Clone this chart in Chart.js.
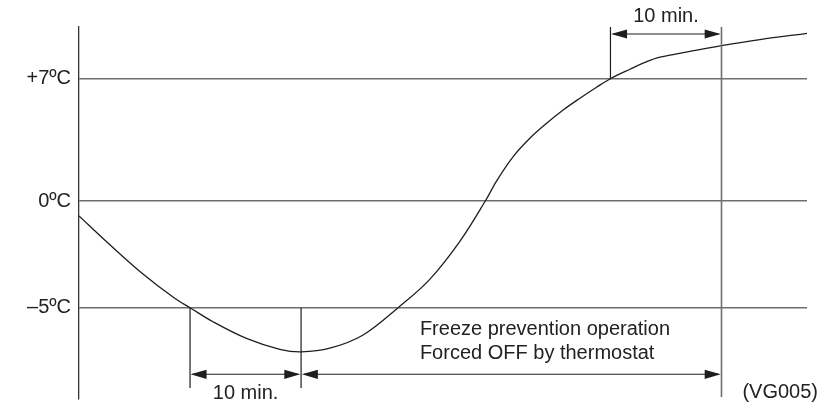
<!DOCTYPE html>
<html><head><meta charset="utf-8">
<script src="https://cdn.jsdelivr.net/npm/chart.js@4/dist/chart.umd.min.js"></script>
<style>html,body{margin:0;padding:0;background:#fff;}canvas{display:block;}</style>
</head><body>
<canvas id="c" width="821" height="403"></canvas>
<script>
// ---- data (time in minutes, temperature in ºC) ----
const TIME_MIN = [0, 2.61, 5.62, 8.62, 10.0, 12.07, 15.08, 18.08, 20.0, 22.59, 25.59, 28.74, 31.59, 34.30, 36.59, 37.6, 39.1, 40.6, 42.11, 43.6, 45.11, 46.61, 47.86, 49.61, 50.96, 52.32, 55.02, 57.86, 61.32, 65.56];
const TEMP_C   = [-0.70, -1.97, -3.36, -4.56, -5.0, -5.66, -6.44, -6.95, -7.07, -6.90, -6.28, -5.0, -3.67, -1.89, 0, 1.14, 2.54, 3.59, 4.45, 5.21, 5.88, 6.51, 7.0, 7.54, 7.93, 8.23, 8.56, 8.89, 9.24, 9.60];
const TICK_VALUES = [-5, 0, 7];
const TICK_LABELS = ['–5ºC', '0ºC', '+7ºC'];
const T_REACH_MINUS5 = 10;
const T_LOWEST = 20;
const T_REACH_PLUS7 = 47.86;
const T_FORCED_OFF_END = 57.86;
const T_NOTE = 30.7;
const TEMP_LOW_MARK = -5;
const TEMP_HIGH_MARK = 7;
const SPAN_LABEL = '10 min.';
const NOTE_LINES = ['Freeze prevention operation', 'Forced OFF by thermostat'];
const FIG_CODE = '(VG005)';

// ---- schematic (piecewise) temperature scale ----
const BELOW_ZERO_STRETCH = 1.221;
class TempScale extends Chart.LinearScale {
  static id = 'tempPiecewise';
  static defaults = {};
  _w(v){ return v < 0 ? v * BELOW_ZERO_STRETCH : v; }
  _uw(w){ return w < 0 ? w / BELOW_ZERO_STRETCH : w; }
  getPixelForValue(v){
    const lo = this._w(this.min), hi = this._w(this.max);
    return this.getPixelForDecimal((this._w(v) - lo) / (hi - lo));
  }
  getValueForPixel(p){
    const lo = this._w(this.min), hi = this._w(this.max);
    return this._uw(lo + this.getDecimalForPixel(p) * (hi - lo));
  }
}
Chart.register(TempScale);

const FONT = '"Liberation Sans", Arial, Helvetica, sans-serif';
const DARK = '#1e1e1e';
const GRAY = '#6e6e6e';

function arrowHead(ctx, tipX, y, dir){
  const L = 16, H = 4.6;
  ctx.beginPath();
  ctx.moveTo(tipX, y);
  ctx.lineTo(tipX - dir * L, y - H);
  ctx.lineTo(tipX - dir * L, y + H);
  ctx.closePath();
  ctx.fill();
}
function dimArrow(ctx, x1, x2, y){
  ctx.beginPath();
  ctx.moveTo(x1 + 2, y);
  ctx.lineTo(x2 - 2, y);
  ctx.stroke();
  arrowHead(ctx, x1, y, -1);
  arrowHead(ctx, x2, y, 1);
}
function vline(ctx, x, y1, y2, color, w){
  ctx.strokeStyle = color; ctx.lineWidth = w;
  ctx.beginPath(); ctx.moveTo(x, y1); ctx.lineTo(x, y2); ctx.stroke();
}

const notesPlugin = {
  id: 'notes',
  afterDatasetsDraw(chart){
    const {ctx, chartArea: a, scales: {x, y}} = chart;
    const X = t => x.getPixelForValue(t);
    const Y = v => y.getPixelForValue(v);
    ctx.save();
    vline(ctx, X(T_REACH_MINUS5), Y(TEMP_LOW_MARK), a.bottom - 11, DARK, 1.2);
    vline(ctx, X(T_LOWEST), Y(TEMP_LOW_MARK), a.bottom - 11, DARK, 1.2);
    vline(ctx, X(T_REACH_PLUS7), a.top, Y(TEMP_HIGH_MARK), DARK, 1.2);
    vline(ctx, X(T_FORCED_OFF_END), a.top, a.bottom - 2, GRAY, 1.6);
    ctx.strokeStyle = DARK; ctx.fillStyle = DARK; ctx.lineWidth = 1.1;
    const yb = a.bottom - 24.7, yt = a.top + 7;
    dimArrow(ctx, X(T_REACH_MINUS5) + 0.5, X(T_LOWEST) - 0.8, yb);
    dimArrow(ctx, X(T_LOWEST) + 0.8, X(T_FORCED_OFF_END) - 0.8, yb);
    dimArrow(ctx, X(T_REACH_PLUS7) + 0.6, X(T_FORCED_OFF_END) - 0.8, yt);
    ctx.fillStyle = '#222';
    ctx.font = '20px ' + FONT;
    ctx.textBaseline = 'alphabetic';
    ctx.textAlign = 'center';
    ctx.fillText(SPAN_LABEL, (X(T_REACH_MINUS5) + X(T_LOWEST)) / 2, a.bottom + 0.3);
    ctx.fillText(SPAN_LABEL, (X(T_REACH_PLUS7) + X(T_FORCED_OFF_END)) / 2, a.top - 5.3);
    ctx.textAlign = 'left';
    ctx.fillText(NOTE_LINES[0], X(T_NOTE), a.bottom - 64);
    ctx.fillText(NOTE_LINES[1], X(T_NOTE), a.bottom - 40);
    ctx.textAlign = 'right';
    ctx.fillText(FIG_CODE, chart.width - 3, a.bottom - 1.5);
    ctx.restore();
  }
};

new Chart(document.getElementById('c'), {
  type: 'line',
  data: {
    datasets: [{
      data: TIME_MIN.map((t, i) => ({x: t, y: TEMP_C[i]})),
      borderColor: DARK,
      borderWidth: 1.3,
      pointRadius: 0,
      tension: 0.35,
      fill: false
    }]
  },
  options: {
    responsive: false,
    animation: false,
    events: [],
    layout: {padding: {top: 27, right: 14, bottom: 4, left: 0}},
    plugins: {legend: {display: false}, tooltip: {enabled: false}},
    scales: {
      x: {type: 'linear', display: false, min: 0, max: 65.56},
      y: {
        type: 'tempPiecewise',
        min: -9.28, max: 9.96,
        afterFit(s){ s.width = 79; s.paddingTop = 0; s.paddingBottom = 0; },
        afterBuildTicks(s){ s.ticks = TICK_VALUES.map(v => ({value: v})); },
        ticks: {
          padding: 8,
          color: '#222',
          font: {family: FONT, size: 20},
          callback: v => TICK_LABELS[TICK_VALUES.indexOf(v)]
        },
        grid: {color: GRAY, lineWidth: 1.6, drawTicks: false},
        border: {color: '#333', width: 1.3}
      }
    }
  },
  plugins: [notesPlugin]
});
</script>
</body></html>
